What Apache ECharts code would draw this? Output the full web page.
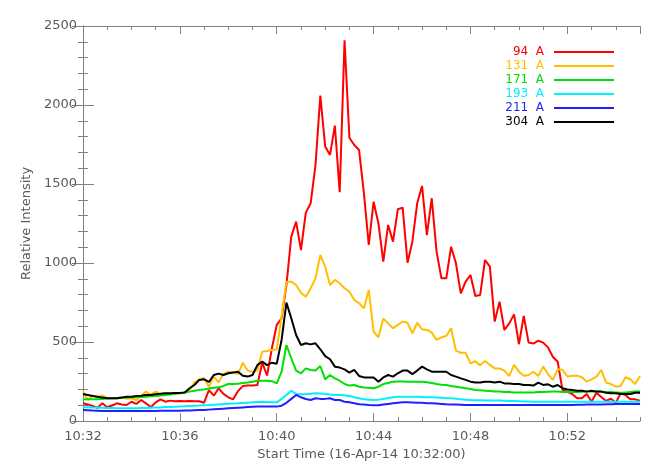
<!DOCTYPE html>
<html>
<head>
<meta charset="utf-8">
<title>AIA light curves</title>
<script src="https://cdn.jsdelivr.net/npm/echarts@6/dist/echarts.min.js"></script>
<style>
    html, body { margin: 0; padding: 0; background: #fff; }
    #chart { width: 665px; height: 475px; }
</style>
</head>
<body>
<div id="chart"></div>
<script>
// one sample every 12 s, x in minutes after 10:32:00
var cadenceMin = 0.2;
var startHour = 10;
var startMinute = 32;

var bands = ['94  A', '131  A', '171  A', '193  A', '211  A', '304  A'];
var bandColors = ['#ff0000', '#ffbf00', '#00e000', '#00f0ff', '#1f1fff', '#000000'];

var aia94 = [112,105,95,84,112,87,98,112,104,101,
    122,108,133,112,87,118,137,122,129,125,
    127,125,127,125,125,116,196,160,207,172,
    150,137,190,221,225,225,228,369,288,460,
    608,650,860,1167,1262,1082,1319,1378,1620,2060,
    1737,1684,1870,1448,2410,1793,1747,1715,1441,1114,
    1388,1250,1008,1241,1135,1340,1350,1002,1135,1378,
    1488,1177,1410,1072,903,903,1103,998,808,882,
    924,791,798,1019,977,629,755,576,618,675,
    486,665,496,490,508,496,466,407,375,196,
    185,171,144,144,171,122,179,152,127,141,
    116,175,165,137,137,129];

var aia131 = [186,133,161,150,161,144,144,144,150,141,
    144,133,158,186,165,186,171,175,171,175,
    175,179,196,243,264,270,217,281,245,297,
    312,306,297,369,319,312,319,439,443,449,
    454,660,882,882,861,812,787,840,903,1051,
    977,861,893,872,840,819,766,745,713,829,
    565,530,648,618,587,608,629,622,555,622,
    580,576,559,513,530,538,587,445,432,432,
    365,378,352,380,355,333,333,319,285,355,
    312,287,291,312,285,344,297,260,327,325,
    281,287,287,277,249,264,281,323,243,234,
    217,222,277,264,234,285];

var aia171 = [137,137,137,138,140,142,144,144,146,148,
    150,151,152,154,156,158,162,165,168,172,
    175,180,186,192,197,200,205,210,213,222,
    234,234,236,240,243,248,255,255,255,252,
    238,312,481,397,319,302,333,323,320,348,
    264,291,270,255,234,224,228,217,212,210,
    207,217,234,240,249,250,250,249,248,249,
    249,245,240,234,230,228,222,217,212,207,
    202,196,194,192,190,186,186,184,183,181,
    181,181,181,181,183,184,185,186,186,184,
    183,183,184,185,186,186,186,185,184,183,
    181,179,181,184,186,186];

var aia193 = [87,87,86,85,84,83,82,81,80,80,
    80,81,82,83,84,85,86,88,89,90,
    91,93,95,97,98,100,101,103,105,107,
    109,111,112,114,116,118,120,122,121,119,
    118,140,165,192,171,170,170,172,175,174,
    171,168,165,165,163,158,150,144,137,135,
    133,135,139,145,150,154,154,154,154,153,
    152,151,150,149,147,145,144,141,138,135,
    133,132,131,130,130,129,129,128,127,126,
    125,124,123,122,122,122,122,122,122,122,
    122,122,122,122,122,122,122,122,122,122,
    122,122,122,122,122,122];

var aia211 = [70,68,66,65,64,63,63,63,63,63,
    63,63,63,64,64,64,65,65,65,65,
    65,66,67,68,69,70,72,74,76,78,
    80,82,84,86,88,90,91,91,91,91,
    91,97,115,140,165,150,139,133,144,140,
    140,144,133,133,122,118,112,106,104,101,
    99,100,104,108,112,115,118,118,117,116,
    115,113,112,110,108,106,105,104,103,102,
    101,101,101,101,101,101,101,101,101,101,
    101,101,101,101,101,101,101,101,101,101,
    102,102,103,103,104,104,105,105,106,106,
    107,107,107,108,108,108];

var aia304 = [171,165,158,154,148,144,144,144,148,154,
    154,158,160,165,165,170,172,175,175,178,
    178,181,207,228,260,264,247,291,300,291,
    302,307,312,287,281,291,354,376,354,369,
    363,513,749,650,544,481,492,485,492,454,
    411,391,344,338,327,306,323,285,276,276,
    276,249,276,291,281,302,319,319,297,319,
    344,327,312,312,312,312,291,281,270,260,
    249,243,243,249,249,243,249,238,238,234,
    234,228,228,224,243,228,232,217,228,207,
    200,196,192,192,186,192,186,186,179,175,
    175,171,171,171,179,179];

var allBands = [aia94, aia131, aia171, aia193, aia211, aia304];

var axisGray = '#808080';
var labelGray = '#5a5a5a';
var font = 'DejaVu Sans';

function toPairs(values) {
    return values.map(function (v, i) { return [i * cadenceMin, v]; });
}

function timeLabel(v) {
    var m = startMinute + v;
    return startHour + ':' + (m < 10 ? '0' + m : m);
}

// x axes: major ticks (4 min) and minor ticks (1 min), bottom and top
function xAxisOf(position, step, tickLen, main) {
    return {
        type: 'value',
        position: position,
        min: 0,
        max: 23,
        interval: step,
        axisLine: { show: main, lineStyle: { color: axisGray, width: 1 } },
        axisTick: { show: true, inside: true, length: tickLen, lineStyle: { color: axisGray } },
        axisLabel: {
            show: main && position === 'bottom' && step === 4,
            margin: 9,
            showMaxLabel: false,
            color: labelGray,
            fontFamily: font,
            fontSize: 13,
            formatter: timeLabel
        },
        splitLine: { show: false }
    };
}

var xAxes = [
    xAxisOf('bottom', 4, 8, true),
    xAxisOf('bottom', 1, 4, false),
    xAxisOf('top', 4, 8, true),
    xAxisOf('top', 1, 4, false)
];
xAxes[0].name = 'Start Time (16-Apr-14 10:32:00)';
xAxes[0].nameLocation = 'middle';
xAxes[0].nameGap = 27;
xAxes[0].nameTextStyle = { color: labelGray, fontFamily: font, fontSize: 13 };

function yAxisOf(position, withLabels) {
    return {
        type: 'value',
        position: position,
        min: 0,
        max: 2500,
        interval: 500,
        axisLine: { show: true, lineStyle: { color: axisGray, width: 1 } },
        axisTick: { show: true, inside: true, length: 11, lineStyle: { color: axisGray } },
        minorTick: { show: true, splitNumber: 5, length: 5, lineStyle: { color: axisGray } },
        axisLabel: {
            show: withLabels,
            margin: 6,
            color: labelGray,
            fontFamily: font,
            fontSize: 13,
            formatter: function (v) { return String(v); }
        },
        splitLine: { show: false }
    };
}

var yAxes = [yAxisOf('left', true), yAxisOf('right', false)];
yAxes[0].name = 'Relative Intensity';
yAxes[0].nameLocation = 'middle';
yAxes[0].nameGap = 45;
yAxes[0].nameTextStyle = { color: labelGray, fontFamily: font, fontSize: 13 };

var chart = echarts.init(document.getElementById('chart'));
chart.setOption({
    animation: false,
    backgroundColor: '#fff',
    grid: { left: 83, right: 25, top: 26, bottom: 54, containLabel: false },
    legend: {
        orient: 'vertical',
        right: 50,
        top: 46,
        padding: 0,
        align: 'right',
        itemWidth: 60,
        itemHeight: 14,
        itemGap: 2,
        itemStyle: { opacity: 0 },
        textStyle: { fontFamily: font, fontSize: 12, padding: [0, 5, 0, 0] },
        data: bands.map(function (b, k) {
            return { name: b, textStyle: { color: bandColors[k] } };
        })
    },
    xAxis: xAxes,
    yAxis: yAxes,
    series: bands.map(function (b, k) {
        return {
            name: b,
            type: 'line',
            xAxisIndex: 0,
            yAxisIndex: 0,
            symbol: 'none',
            color: bandColors[k],
            lineStyle: { width: 2, color: bandColors[k] },
            data: toPairs(allBands[k])
        };
    })
});
</script>
</body>
</html>
